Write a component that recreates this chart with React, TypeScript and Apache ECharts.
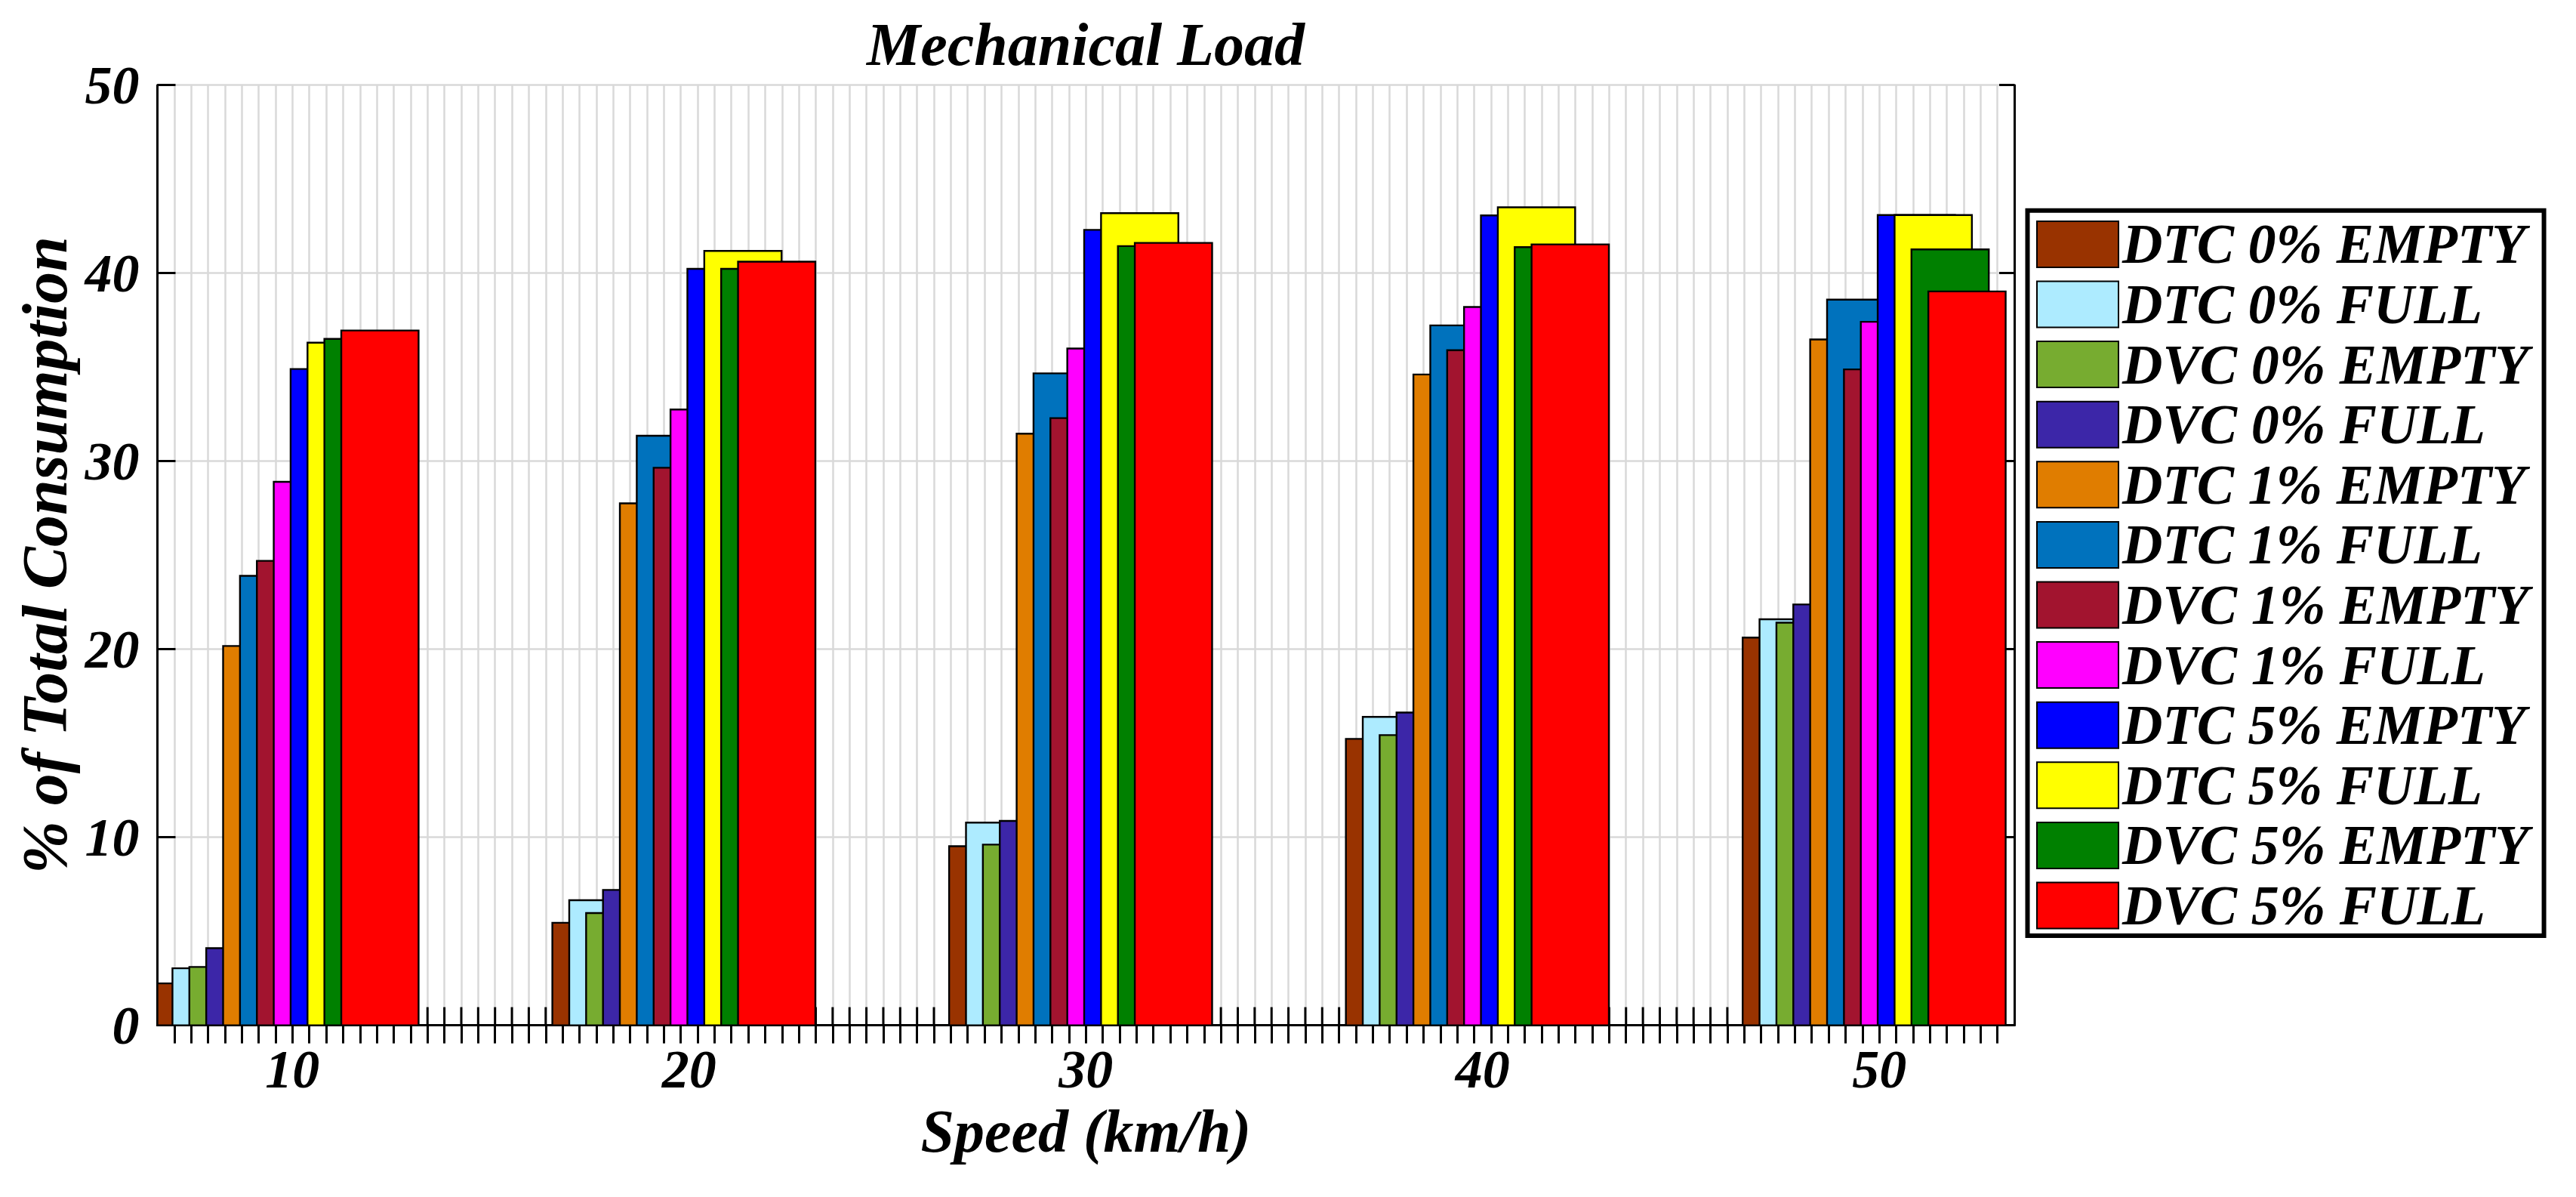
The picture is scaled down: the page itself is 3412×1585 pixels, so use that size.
import React, { useEffect, useRef } from "react";
import * as echarts from "echarts";

// ---------- data ----------
const speeds = [10, 20, 30, 40, 50];

const seriesNames = [
  "DTC 0% EMPTY",
  "DTC 0% FULL",
  "DVC 0% EMPTY",
  "DVC 0% FULL",
  "DTC 1% EMPTY",
  "DTC 1% FULL",
  "DVC 1% EMPTY",
  "DVC 1% FULL",
  "DTC 5% EMPTY",
  "DTC 5% FULL",
  "DVC 5% EMPTY",
  "DVC 5% FULL",
];

const dtc0Empty = [2.23, 5.45, 9.52, 15.23, 20.62];
const dtc0Full = [3.03, 6.65, 10.78, 16.4, 21.59];
const dvc0Empty = [3.1, 5.97, 9.61, 15.43, 21.41];
const dvc0Full = [4.1, 7.2, 10.87, 16.63, 22.38];
const dtc1Empty = [20.17, 27.76, 31.46, 34.61, 36.47];
const dtc1Full = [23.9, 31.35, 34.67, 37.22, 38.59];
const dvc1Empty = [24.7, 29.65, 32.29, 35.9, 34.88];
const dvc1Full = [28.9, 32.75, 35.99, 38.2, 37.41];
const dtc5Empty = [34.9, 40.23, 42.3, 43.07, 43.09];
const dtc5Full = [36.3, 41.18, 43.19, 43.5, 43.09];
const dvc5Empty = [36.5, 40.23, 41.44, 41.38, 41.26];
const dvc5Full = [36.95, 40.61, 41.61, 41.53, 39.03];

const seriesValues = [
  dtc0Empty, dtc0Full, dvc0Empty, dvc0Full,
  dtc1Empty, dtc1Full, dvc1Empty, dvc1Full,
  dtc5Empty, dtc5Full, dvc5Empty, dvc5Full,
];

const yTickValues = [0, 10, 20, 30, 40, 50];

// ---------- styles / layout ----------
const seriesColors = [
  "#993300", "#ADEBFF", "#77AC30", "#3C26A8",
  "#E07D00", "#0072BD", "#A2142F", "#FF00FF",
  "#0000FF", "#FFFF00", "#008000", "#FF0000",
];

const X_MIN = 6.6;
const X_MAX = 53.4;
const MINOR_COUNT = 110;
const U = (X_MAX - X_MIN) / MINOR_COUNT;
const minorTicks = Array.from({ length: MINOR_COUNT - 1 }, (_, n) => X_MIN + (n + 1) * U);
const BAR_OFFSET = -8.1 * U;
const BAR_STEP = U;
const BAR_WIDTH = 4.58 * U;
const TICK_LEN = 24;

const FONT = "'Liberation Serif', 'Times New Roman', serif";
const textBase = {
  fontFamily: FONT,
  fontWeight: "bold" as const,
  fontStyle: "italic" as const,
  color: "#000",
};

const GRID = { left: 208.5, right: 3412 - 2668, top: 112.7, bottom: 1585 - 1357.6 };

export default function App() {
  const ref = useRef<HTMLDivElement>(null);

  useEffect(() => {
    if (!ref.current) return;
    const chart = echarts.init(ref.current, undefined, { renderer: "svg" });

    // bottom minor ticks, drawn beneath the bars (as in the original figure)
    const tickSeries = {
      name: "__ticks",
      type: "custom",
      xAxisIndex: 0,
      yAxisIndex: 0,
      silent: true,
      encode: { x: 0, y: 1 },
      data: minorTicks.map((v) => [v, 0]),
      renderItem: (_params: any, api: any) => {
        const p = api.coord([api.value(0), 0]);
        return {
          type: "line",
          shape: { x1: p[0], y1: p[1], x2: p[0], y2: p[1] - TICK_LEN },
          style: { stroke: "#000", lineWidth: 3 },
        };
      },
    };

    const barSeries = seriesNames.map((name, i) => ({
      name,
      type: "custom",
      xAxisIndex: 0,
      yAxisIndex: 0,
      itemStyle: { color: seriesColors[i], borderColor: "#000", borderWidth: 2 },
      encode: { x: 0, y: 1 },
      data: speeds.map((s, k) => [s, seriesValues[i][k]]),
      renderItem: (params: any, api: any) => {
        const xc = api.value(0) as number;
        const v = api.value(1) as number;
        const x0 = xc + BAR_OFFSET + i * BAR_STEP;
        const p0 = api.coord([x0, v]);
        const p1 = api.coord([x0 + BAR_WIDTH, 0]);
        const cs = params.coordSys;
        const shape = echarts.graphic.clipRectByRect(
          { x: p0[0], y: p0[1], width: p1[0] - p0[0], height: p1[1] - p0[1] },
          { x: cs.x, y: cs.y, width: cs.width, height: cs.height }
        );
        if (!shape) return null;
        return {
          type: "rect",
          shape,
          style: { fill: seriesColors[i], stroke: "#000", lineWidth: 2.4 },
        };
      },
    }));

    const axisLine = { show: true, lineStyle: { color: "#000", width: 3 } };
    const gridLine = { show: true, lineStyle: { color: "#d9d9d9", width: 2.5 } };

    chart.setOption({
      animation: false,
      backgroundColor: "#fff",
      grid: GRID,
      graphic: [
        {
          type: "text",
          x: 1438,
          y: 19,
          style: {
            text: "Mechanical Load",
            align: "center",
            verticalAlign: "top",
            font: `italic bold 80px ${FONT}`,
            fill: "#000",
          },
        },
      ],
      legend: {
        orient: "vertical",
        left: 2685.5,
        top: 278.7,
        padding: [7.7, 20, 3, 11.5],
        itemWidth: 108,
        itemHeight: 61,
        itemGap: 5.6,
        icon: "rect",
        selectedMode: false,
        backgroundColor: "#fff",
        borderColor: "#000",
        borderWidth: 6,
        itemStyle: { borderColor: "#000", borderWidth: 2 },
        textStyle: { ...textBase, fontSize: 74 },
        data: seriesNames,
      },
      xAxis: [
        {
          type: "value",
          position: "bottom",
          min: X_MIN,
          max: X_MAX,
          axisLine,
          axisTick: { show: false, customValues: minorTicks },
          axisLabel: { ...textBase, fontSize: 72, margin: 22, customValues: speeds },
          splitLine: gridLine,
          name: "Speed (km/h)",
          nameLocation: "middle",
          nameGap: 100,
          nameTextStyle: { ...textBase, fontSize: 80 },
        },
        {
          type: "value",
          position: "top",
          min: X_MIN,
          max: X_MAX,
          axisLine,
          axisTick: {
            show: true,
            inside: true,
            length: TICK_LEN,
            customValues: minorTicks,
            lineStyle: { color: "#000", width: 3 },
          },
          axisLabel: { show: false },
          splitLine: { show: false },
        },
      ],
      yAxis: [
        {
          type: "value",
          position: "left",
          min: 0,
          max: 50,
          interval: 10,
          axisLine,
          axisTick: { show: true, inside: true, length: TICK_LEN, lineStyle: { color: "#000", width: 3 } },
          axisLabel: { ...textBase, fontSize: 72, margin: 24, customValues: yTickValues },
          splitLine: gridLine,
          name: "% of Total Consumption",
          nameLocation: "middle",
          nameGap: 100,
          nameTextStyle: { ...textBase, fontSize: 84 },
        },
        {
          type: "value",
          position: "right",
          min: 0,
          max: 50,
          interval: 10,
          axisLine,
          axisTick: { show: true, inside: true, length: 20, lineStyle: { color: "#000", width: 3 } },
          axisLabel: { show: false },
          splitLine: { show: false },
        },
      ],
      series: [tickSeries, ...barSeries],
    });

    return () => chart.dispose();
  }, []);

  return (
    <div
      ref={ref}
      style={{ position: "absolute", left: 0, top: 0, width: 3412, height: 1585 }}
    />
  );
}
